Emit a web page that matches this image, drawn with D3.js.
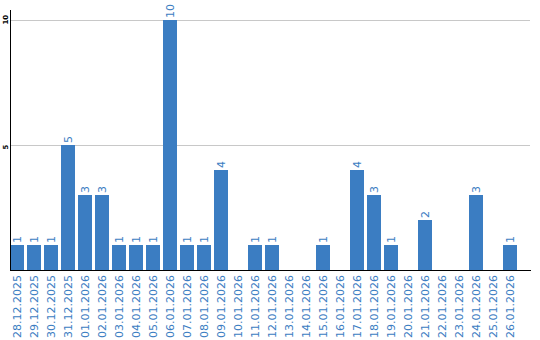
<!DOCTYPE html>
<html><head><meta charset="utf-8">
<script src="https://cdn.jsdelivr.net/npm/d3@7"></script>
<style>html,body{margin:0;padding:0;background:#fff;}svg{display:block;}</style>
</head><body>
<script>
const categories = ["28.12.2025","29.12.2025","30.12.2025","31.12.2025","01.01.2026","02.01.2026","03.01.2026","04.01.2026","05.01.2026","06.01.2026","07.01.2026","08.01.2026","09.01.2026","10.01.2026","11.01.2026","12.01.2026","13.01.2026","14.01.2026","15.01.2026","16.01.2026","17.01.2026","18.01.2026","19.01.2026","20.01.2026","21.01.2026","22.01.2026","23.01.2026","24.01.2026","25.01.2026","26.01.2026"];
const values = [1,1,1,5,3,3,1,1,1,10,1,1,4,0,1,1,0,0,1,0,4,3,1,0,2,0,0,3,0,1];
const yTicks = [5,10];

const W = 540, H = 340;
const barColor = "#3b7dc2", labelColor = "#3b7dc2";
const svg = d3.select("body").append("svg").attr("width", W).attr("height", H);

const x = d3.scaleBand().domain(categories).range([10, 517]).paddingInner(3/17).paddingOuter(0);
const y = d3.scaleLinear().domain([0, 10.4]).range([270, 10]);

// gridlines
svg.append("g").selectAll("line").data(yTicks).join("line")
  .attr("x1", 10).attr("x2", 530)
  .attr("y1", d => Math.round(y(d)) + 0.5).attr("y2", d => Math.round(y(d)) + 0.5)
  .attr("stroke", "#c8c8c8").attr("stroke-width", 1);

// y tick labels
svg.append("g").selectAll("text").data(yTicks).join("text")
  .attr("transform", d => `translate(8,${y(d) + 4.5}) rotate(-90)`)
  .attr("text-anchor", "start")
  .attr("font-family", "DejaVu Sans").attr("font-size", 7).attr("font-weight", "bold")
  .attr("fill", "#000").text(d => d);

// bars
svg.append("g").selectAll("rect").data(values).join("rect")
  .attr("x", (d, i) => x(categories[i]))
  .attr("width", x.bandwidth())
  .attr("y", d => y(d))
  .attr("height", d => y(0) - y(d))
  .attr("fill", barColor);

// value labels
svg.append("g").selectAll("text").data(values.map((v, i) => ({v, c: categories[i]})).filter(d => d.v > 0)).join("text")
  .attr("transform", d => `translate(${x(d.c) + x.bandwidth() / 2 + 4},${y(d.v) - 2}) rotate(-90)`)
  .attr("text-anchor", "start")
  .attr("font-family", "DejaVu Sans").attr("font-size", 11)
  .attr("fill", labelColor).text(d => d.v);

// x axis labels
const xAxis = d3.axisBottom(x).tickSize(0).tickPadding(0);
const gx = svg.append("g").attr("transform", "translate(0,270)").call(xAxis);
gx.select(".domain").remove();
gx.selectAll("text")
  .attr("font-family", "DejaVu Sans").attr("font-size", 11)
  .attr("fill", labelColor)
  .attr("text-anchor", "end")
  .attr("dy", null).attr("y", 0).attr("x", 0)
  .attr("transform", "translate(4,5) rotate(-90)");

// axis lines
svg.append("line").attr("x1", 10.5).attr("x2", 10.5).attr("y1", 10).attr("y2", 270)
  .attr("stroke", "#000").attr("stroke-width", 1);
svg.append("line").attr("x1", 10).attr("x2", 531).attr("y1", 270.5).attr("y2", 270.5)
  .attr("stroke", "#000").attr("stroke-width", 1);
</script>
</body></html>
